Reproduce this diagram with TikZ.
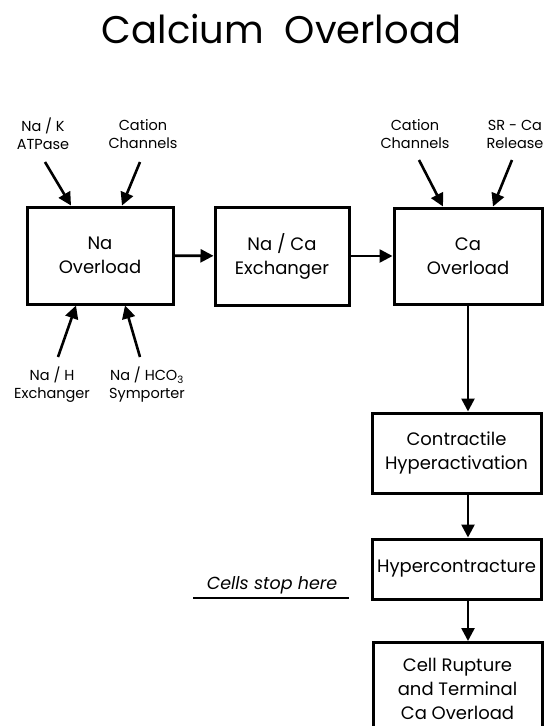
\documentclass[tikz,border=0pt]{standalone}
\usepackage{fontspec}
\setmainfont{Poppins}
\usetikzlibrary{arrows.meta}
\tikzset{
  boxnode/.style={draw, line width=3pt, rectangle, align=center, inner sep=2pt,
    font=\fontsize{18}{24}\selectfont},
  lbl/.style={align=center, inner sep=0pt, font=\fontsize{14.5}{18}\selectfont},
  arr/.style={line width=2.6pt, -{Triangle[length=13pt,width=13pt]}},
}
\begin{document}
\begin{tikzpicture}[x=1pt,y=-1pt]
\useasboundingbox (0,0) rectangle (547,726);
\node[font=\fontsize{38.5}{46}\selectfont, inner sep=0pt] (title) at (281.5,29) {Calcium\ \ Overload};

\node[boxnode, minimum width=146pt, minimum height=97pt] (na) at (100,255.5) {Na\\Overload};
\node[boxnode, minimum width=134pt, minimum height=98pt] (naca) at (282,256) {Na / Ca\\Exchanger};
\node[boxnode, minimum width=148pt, minimum height=96pt] (ca) at (468,256) {Ca\\Overload};
\node[boxnode, minimum width=169pt, minimum height=80pt] (contr) at (456.5,453) {Contractile\\Hyperactivation};
\node[boxnode, minimum width=169pt, minimum height=60pt] (hyper) at (456.5,569) {Hypercontracture};
\node[boxnode, minimum width=169pt, minimum height=92pt, anchor=north] (cell) at (457.5,641) {Cell Rupture\\and Terminal\\Ca Overload};

\node[lbl] (nak) at (43,134) {Na / K\\ATPase};
\node[lbl] (cc1) at (143,134) {Cation\\Channels};
\node[lbl] (nah) at (52,385) {Na / H\\Exchanger};
\node[lbl] (nahco) at (147,385) {Na / HCO\textsubscript{3}\\Symporter};
\node[lbl] (cc2) at (415,134) {Cation\\Channels};
\node[lbl] (sr) at (515,134) {SR - Ca\\Release};

\coordinate (s1) at (45,162);
\coordinate (s2) at (140,162);
\coordinate (s3) at (58,357);
\coordinate (s4) at (140,357);
\coordinate (s5) at (419,160);
\coordinate (s6) at (512,160);

\draw[arr] (s1) -- (na.north west -| 71,0);
\draw[arr] (s2) -- (na.north west -| 122,0);
\draw[arr] (s3) -- (na.south west -| 76,0);
\draw[arr] (s4) -- (na.south west -| 125,0);
\draw[arr] (s5) -- (ca.north west -| 443,0);
\draw[arr] (s6) -- (ca.north west -| 493,0);

\draw[arr] (na) -- (naca);
\draw[arr] (naca) -- (ca);
\draw[arr] (ca.south) -- (ca.south |- contr.north);
\draw[arr] (ca.south |- contr.south) -- (ca.south |- hyper.north);
\draw[arr] (ca.south |- hyper.south) -- (ca.south |- cell.north);

\node[font=\fontsize{17.5}{20}\selectfont\itshape, inner sep=0pt] (stop) at (272,585) {Cells stop here};
\coordinate (u1) at (193,598);
\coordinate (u2) at (349,598);
\draw[line width=1.4pt] (u1) -- (u2);
\end{tikzpicture}
\end{document}
